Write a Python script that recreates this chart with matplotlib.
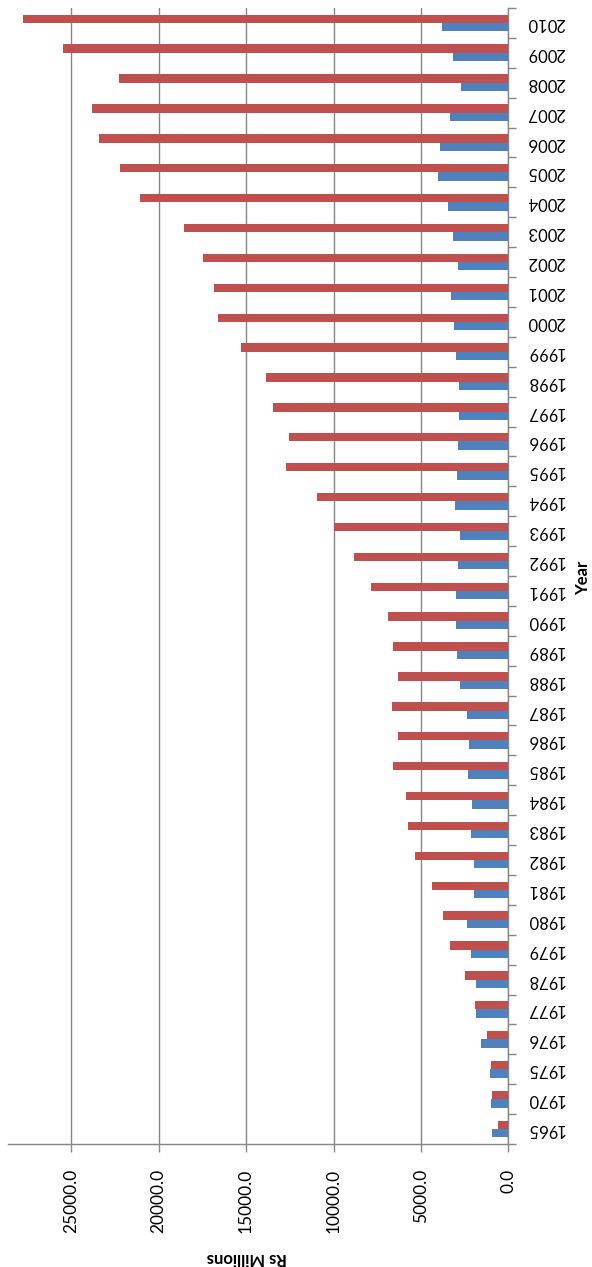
import matplotlib
matplotlib.use("Agg")
import matplotlib.pyplot as plt
import numpy as np

plt.rcParams['font.family'] = ['Lato', 'DejaVu Sans']

years = ['1965', '1970', '1975', '1976', '1977', '1978', '1979', '1980',
         '1981', '1982', '1983', '1984', '1985', '1986', '1987', '1988',
         '1989', '1990', '1991', '1992', '1993', '1994', '1995', '1996',
         '1997', '1998', '1999', '2000', '2001', '2002', '2003', '2004',
         '2005', '2006', '2007', '2008', '2009', '2010']

series_blue = [940, 1020, 1070, 1550, 1860, 1870, 2160, 2370,
               1970, 1970, 2160, 2100, 2300, 2270, 2390, 2770,
               2930, 3000, 3000, 2870, 2770, 3070, 2930, 2890,
               2850, 2810, 3020, 3130, 3290, 2870, 3150, 3440,
               4030, 3930, 3330, 2710, 3150, 3820]

series_red = [620, 960, 1000, 1230, 1910, 2490, 3340, 3740,
              4390, 5340, 5740, 5860, 6620, 6300, 6640, 6310,
              6580, 6870, 7840, 8810, 9970, 10960, 12700, 12560,
              13440, 13870, 15300, 16620, 16850, 17440, 18540, 21070,
              22180, 23400, 23820, 22240, 25460, 27760]

value_ticks = [0, 5000, 10000, 15000, 20000, 25000]

W, H = 592, 1267
fig = plt.figure(figsize=(W / 100, H / 100), dpi=100)
ax = fig.add_axes([8 / W, (H - 1144) / H, (508.5 - 8) / W, (1144 - 8) / H])

pos = np.arange(len(years))
bar_h = 0.28
ax.barh(pos - bar_h / 2, series_blue, height=bar_h, color='#4F81BD', zorder=3)
ax.barh(pos + bar_h / 2, series_red, height=bar_h, color='#C0504D', zorder=3)

ax.set_xlim(28600, 0)
ax.set_ylim(-0.5, len(years) - 0.5)

axis_color = '#868686'
for side in ['left', 'top']:
    ax.spines[side].set_visible(False)
for side in ['right', 'bottom']:
    ax.spines[side].set_color(axis_color)
    ax.spines[side].set_linewidth(1.0)

# value axis
ax.set_xticks(value_ticks)
ax.set_xticklabels([f"{v:.1f}" for v in value_ticks], rotation=90,
                   fontsize=12.5, va='top', color='#000000')
ax.tick_params(axis='x', direction='out', length=6, width=1,
               color=axis_color, pad=12)
ax.grid(axis='x', color=axis_color, linewidth=1.0, zorder=0)

# category axis on the right, ticks between categories
ax.yaxis.tick_right()
ax.set_yticks(np.arange(len(years) + 1) - 0.5)
ax.set_yticklabels([])
ax.set_yticks(pos, minor=True)
ax.set_yticklabels(years, minor=True, rotation=180, fontsize=12,
                   va='center')
ax.tick_params(axis='y', which='major', direction='out', length=6,
               width=1, color=axis_color, right=True, left=False)
ax.tick_params(axis='y', which='minor', length=0, pad=13,
               right=True, left=False)

fig.text(247 / W, 1 - 1258 / H, 'Rs Millions', rotation=180,
         fontsize=12, fontweight='bold', ha='center', va='center')
fig.text(583 / W, 1 - 578 / H, 'Year', rotation=90,
         fontsize=12, fontweight='bold', ha='center', va='center')

fig.savefig('out.png', dpi=100)
